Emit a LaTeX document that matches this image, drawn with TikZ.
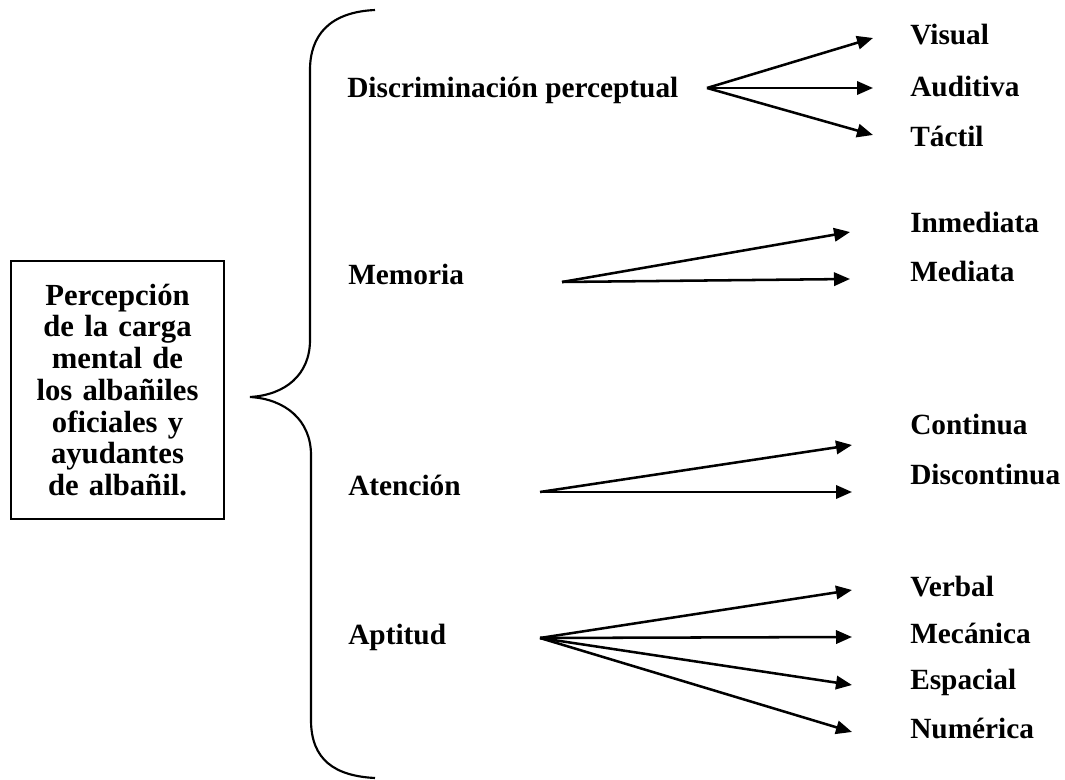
\documentclass[tikz,border=0pt]{standalone}
\usepackage{fontspec}
\setmainfont{Liberation Serif}
\usetikzlibrary{arrows.meta}
\tikzset{
  lbl/.style={font=\fontsize{22}{23.8}\selectfont\bfseries, inner sep=0pt, anchor=base west},
  arr/.style={line width=1.9pt, -{Triangle[length=12pt,width=10pt]}},
  brc/.style={line width=1.6pt},
  box/.style={draw, line width=1.3pt, font=\fontsize{23}{23.8}\selectfont\bfseries, align=center,
     text width=140pt, inner xsep=10pt, inner ysep=2pt, minimum height=193.5pt, anchor=north west}
}
\begin{document}
\begin{tikzpicture}[x=0.75pt,y=-0.75pt]
\useasboundingbox (0,0) rectangle (1065,780);
% main box
\node[box] (main) at (10,260) {Percepción\\de la carga\\mental de\\los albañiles\\oficiales y\\ayudantes\\de albañil.};
% brace
\draw[brc] (375,10) .. controls (330,12) and (310,35) .. (310,70) -- (310,340)
  .. controls (310,375) and (285,395) .. (250,397)
  .. controls (285,399) and (311,420) .. (311,455) -- (311,720)
  .. controls (311,760) and (335,776) .. (375,778);
% categories
\node[lbl] (disc) at (347,98) {Discriminación perceptual};
\node[lbl] (mem) at (348,285) {Memoria};
\node[lbl] (ate) at (348,496) {Atención};
\node[lbl] (apt) at (348,645) {Aptitud};
% origins
\coordinate (o1) at (707,88);
\coordinate (o2) at (562,282);
\coordinate (o3) at (540,492);
\coordinate (o4) at (540,638);
% leaves
\node[lbl] (vis) at (910,45) {Visual};
\node[lbl] (aud) at (910,97) {Auditiva};
\node[lbl] (tac) at (910,147) {Táctil};
\node[lbl] (inm) at (910,233) {Inmediata};
\node[lbl] (med) at (910,282) {Mediata};
\node[lbl] (con) at (910,435) {Continua};
\node[lbl] (dis) at (910,485) {Discontinua};
\node[lbl] (ver) at (910,597) {Verbal};
\node[lbl] (mec) at (910,643) {Mecánica};
\node[lbl] (esp) at (910,690) {Espacial};
\node[lbl] (num) at (910,738) {Numérica};
% arrow tips
\coordinate (t1a) at (873,38);
\coordinate (t1b) at (873,88);
\coordinate (t1c) at (873,135);
\coordinate (t2a) at (850,232);
\coordinate (t2b) at (850,279);
\coordinate (t3a) at (852,445);
\coordinate (t3b) at (852,492);
\coordinate (t4a) at (852,590);
\coordinate (t4b) at (852,637);
\coordinate (t4c) at (852,685);
\coordinate (t4d) at (852,732);
\draw[arr] (o1) -- (t1a);
\draw[arr] (o1) -- (t1b);
\draw[arr] (o1) -- (t1c);
\draw[arr] (o2) -- (t2a);
\draw[arr] (o2) -- (t2b);
\draw[arr] (o3) -- (t3a);
\draw[arr] (o3) -- (t3b);
\draw[arr] (o4) -- (t4a);
\draw[arr] (o4) -- (t4b);
\draw[arr] (o4) -- (t4c);
\draw[arr] (o4) -- (t4d);
\end{tikzpicture}
\end{document}
